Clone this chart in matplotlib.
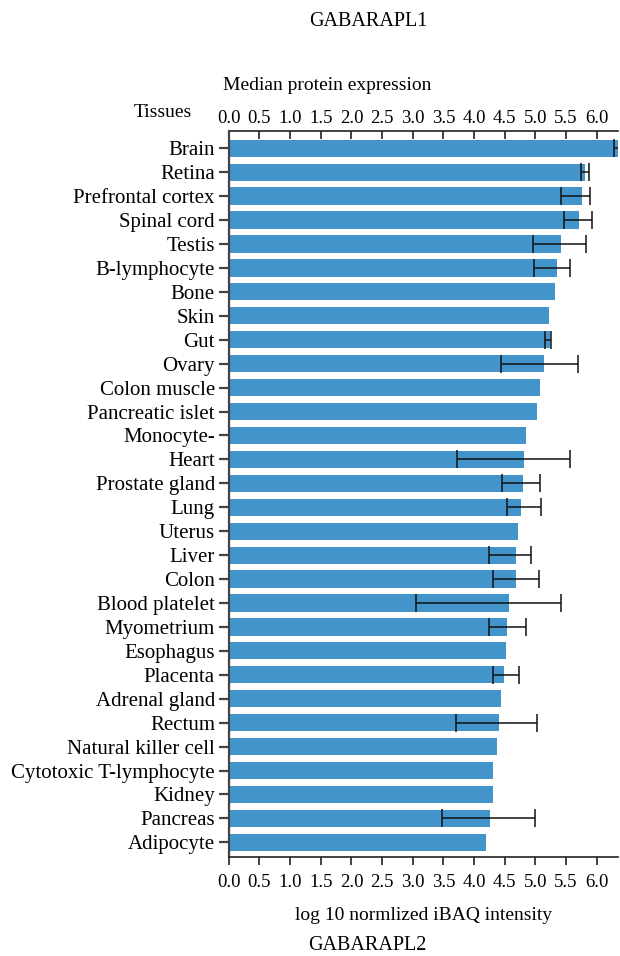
import matplotlib
matplotlib.use("Agg")
import matplotlib.pyplot as plt
import numpy as np

tissues = ["Brain", "Retina", "Prefrontal cortex", "Spinal cord", "Testis",
           "B-lymphocyte", "Bone", "Skin", "Gut", "Ovary", "Colon muscle",
           "Pancreatic islet", "Monocyte-", "Heart", "Prostate gland", "Lung",
           "Uterus", "Liver", "Colon", "Blood platelet", "Myometrium",
           "Esophagus", "Placenta", "Adrenal gland", "Rectum",
           "Natural killer cell", "Cytotoxic T-lymphocyte", "Kidney",
           "Pancreas", "Adipocyte"]
median = [6.34, 5.81, 5.76, 5.71, 5.42, 5.35, 5.32, 5.23, 5.24, 5.14, 5.08,
          5.03, 4.85, 4.82, 4.80, 4.77, 4.72, 4.68, 4.68, 4.57, 4.54, 4.52,
          4.49, 4.44, 4.41, 4.37, 4.31, 4.31, 4.26, 4.19]
# error-bar extents; nan where a tissue has a single sample
err_low = [6.29, 5.74, 5.41, 5.46, 4.96, 4.98, np.nan, np.nan, 5.16, 4.44,
           np.nan, np.nan, np.nan, 3.73, 4.46, 4.53, np.nan, 4.25, 4.31, 3.05,
           4.25, np.nan, 4.31, np.nan, 3.71, np.nan, np.nan, np.nan, 3.47,
           np.nan]
err_high = [6.40, 5.87, 5.89, 5.93, 5.83, 5.56, np.nan, np.nan, 5.25, 5.70,
            np.nan, np.nan, np.nan, 5.57, 5.07, 5.10, np.nan, 4.93, 5.06, 5.41,
            4.84, np.nan, 4.73, np.nan, 5.03, np.nan, np.nan, np.nan, 5.00,
            np.nan]
xticks = np.arange(0, 6.01, 0.5)

plt.rcParams["font.family"] = ["Liberation Serif", "DejaVu Serif"]
axis_grey = "#444444"

fig = plt.figure(figsize=(6.2, 9.56), dpi=100)
ax = fig.add_axes([0.369, 0.1036, 0.628, 0.7594])

y = np.arange(len(tissues))
med = np.array(median)
lo = np.array(err_low)
hi = np.array(err_high)
has_err = ~np.isnan(lo)

ax.barh(y, med, height=0.72, color="#4394ca", zorder=2)
ax.errorbar(med[has_err], y[has_err],
            xerr=[med[has_err] - lo[has_err], hi[has_err] - med[has_err]],
            fmt="none", ecolor="#111111", elinewidth=1.1, capsize=6.5,
            capthick=1.1, zorder=3)

ax.set_xlim(0, 6.35)
ax.set_ylim(29.61, -0.72)
ax.set_yticks(y)
ax.set_yticklabels(tissues, fontsize=15)
ax.set_xticks(xticks)
ax.set_xticklabels([f"{t:.1f}" for t in xticks], fontsize=13.5)
ax.tick_params(axis="x", direction="out", length=6, width=1.2, color="#222222",
               pad=6)
ax.tick_params(axis="y", direction="out", length=7, width=1.6,
               color=axis_grey, pad=3)

# top scale repeats the bottom one, ticks pointing into the plot
top = ax.secondary_xaxis("top")
top.set_xticks(xticks)
top.set_xticklabels([f"{t:.1f}" for t in xticks], fontsize=13.5)
top.tick_params(direction="in", length=6, width=1.2, color="#222222", pad=3)
top.spines["top"].set_linewidth(1.2)
top.spines["top"].set_color("#222222")

for side in ("top", "right"):
    ax.spines[side].set_visible(False)
ax.spines["left"].set_color(axis_grey)
ax.spines["left"].set_linewidth(1.6)
ax.spines["bottom"].set_color("#222222")
ax.spines["bottom"].set_linewidth(1.2)

ax.set_xlabel("log 10 normlized iBAQ intensity", fontsize=14, labelpad=12)

fig.text(0.594, 0.977, "GABARAPL1", ha="center", va="center", fontsize=14.5)
fig.text(0.527, 0.911, "Median protein expression", ha="center", va="center",
         fontsize=14)
fig.text(0.262, 0.882, "Tissues", ha="center", va="center", fontsize=14)
fig.text(0.592, 0.0105, "GABARAPL2", ha="center", va="center", fontsize=14.5)

fig.savefig("out.png", dpi=100)
